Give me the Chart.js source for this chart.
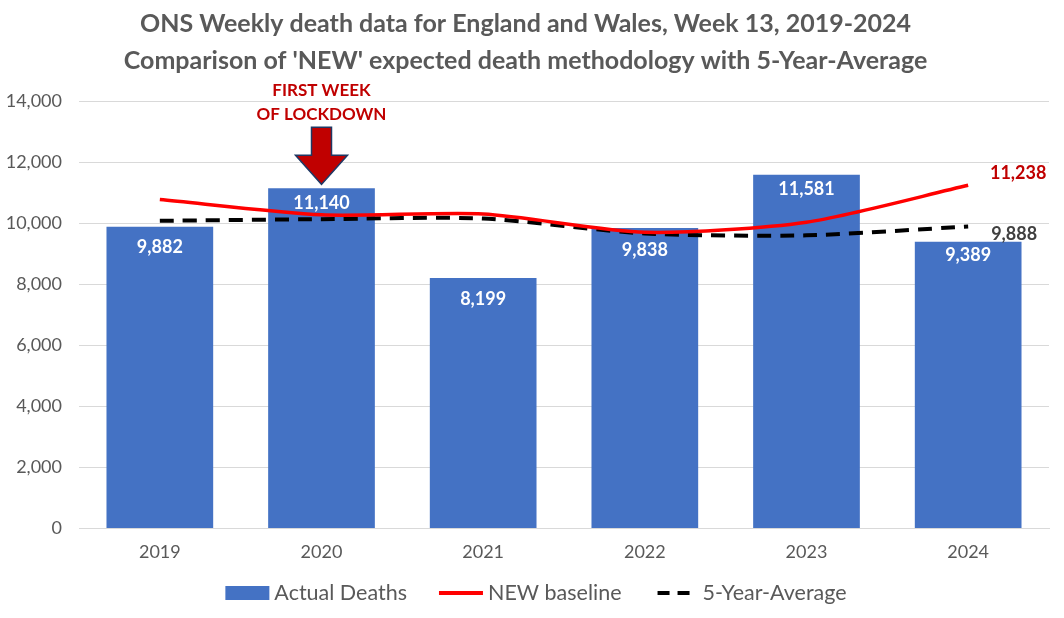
<!DOCTYPE html>
<html>
<head>
<meta charset="utf-8">
<script src="https://cdn.jsdelivr.net/npm/chart.js@4.4.1/dist/chart.umd.min.js"></script>
<style>
  html, body { margin: 0; padding: 0; background: #ffffff; }
  #wrap { width: 1064px; height: 618px; }
</style>
</head>
<body>
<div id="wrap"><canvas id="c" width="1064" height="618"></canvas></div>
<script>
// ---- data ----
const years = ['2019', '2020', '2021', '2022', '2023', '2024'];
const actualDeaths = [9882, 11140, 8199, 9838, 11581, 9389];
const newBaseline = [10770, 10270, 10300, 9700, 10030, 11238];
const fiveYearAverage = [10075, 10130, 10150, 9660, 9600, 9888];
const yTicks = [0, 2000, 4000, 6000, 8000, 10000, 12000, 14000];
const titleLines = [
  'ONS Weekly death data for England and Wales, Week 13, 2019-2024',
  "Comparison of 'NEW' expected death methodology with 5-Year-Average"
];
const annotationLines = ['FIRST WEEK', 'OF LOCKDOWN'];
const annotationYear = '2020';

const FONT = 'Lato, "Open Sans", "Liberation Sans", sans-serif';
const GREY = '#595959';
const BLUE = '#4472C4';
const RED = '#FF0000';
const DARKRED = '#C00000';

const fmt = v => v.toLocaleString('en-US');

const labelOffsets = [20, 15, 21, 22, 14, 13];

const overlayPlugin = {
  id: 'overlay',
  afterDatasetsDraw(chart) {
    const ctx = chart.ctx;
    const xs = chart.scales.x, ys = chart.scales.y;
    ctx.save();
    // bar value labels
    const barMeta = chart.getDatasetMeta(0);
    ctx.font = 'bold 18px ' + FONT;
    ctx.fillStyle = '#ffffff';
    ctx.textAlign = 'center';
    ctx.textBaseline = 'middle';
    barMeta.data.forEach((bar, i) => {
      ctx.fillText(fmt(actualDeaths[i]), bar.x, bar.y + labelOffsets[i]);
    });
    // end labels for lines
    const last = years.length - 1;
    const xe = xs.getPixelForValue(last);
    ctx.fillStyle = DARKRED;
    ctx.fillText(fmt(newBaseline[last]), xe + 50, ys.getPixelForValue(newBaseline[last]) - 12);
    ctx.fillStyle = '#404040';
    ctx.fillText(fmt(fiveYearAverage[last]), xe + 46, ys.getPixelForValue(fiveYearAverage[last]) + 8);

    // arrow annotation
    const ai = years.indexOf(annotationYear);
    const ax = xs.getPixelForValue(ai);
    const tip = ys.getPixelForValue(actualDeaths[ai]) - 4;
    const headBase = tip - 29, bodyTop = tip - 57;
    ctx.beginPath();
    ctx.moveTo(ax - 10, bodyTop);
    ctx.lineTo(ax + 10, bodyTop);
    ctx.lineTo(ax + 10, headBase);
    ctx.lineTo(ax + 26, headBase);
    ctx.lineTo(ax, tip);
    ctx.lineTo(ax - 26, headBase);
    ctx.lineTo(ax - 10, headBase);
    ctx.closePath();
    ctx.fillStyle = DARKRED;
    ctx.fill();
    ctx.lineWidth = 1.5;
    ctx.strokeStyle = '#1F3864';
    ctx.stroke();
    ctx.fillStyle = DARKRED;
    ctx.font = 'bold 17px ' + FONT;
    ctx.fillText(annotationLines[0], ax, tip - 94);
    ctx.fillText(annotationLines[1], ax, tip - 70);
    ctx.restore();
  },
  afterDraw(chart) {
    // legend
    const ctx = chart.ctx;
    ctx.save();
    ctx.font = '21.5px ' + FONT;
    ctx.textBaseline = 'middle';
    ctx.textAlign = 'left';
    const items = chart.data.datasets.map(d => d.label);
    const sw = 44, gapText = 5, gapItem = 32;
    const widths = items.map(t => ctx.measureText(t).width);
    const total = widths.reduce((a, w) => a + sw + gapText + w, 0) + gapItem * (items.length - 1);
    let x = 536 - total / 2;
    const y = 593;
    items.forEach((t, i) => {
      if (i === 0) {
        ctx.fillStyle = BLUE;
        ctx.fillRect(x, y - 7, sw, 14);
      } else if (i === 1) {
        ctx.strokeStyle = RED; ctx.lineWidth = 4; ctx.setLineDash([]);
        ctx.beginPath(); ctx.moveTo(x, y); ctx.lineTo(x + sw, y); ctx.stroke();
      } else {
        ctx.strokeStyle = '#000'; ctx.lineWidth = 4; ctx.setLineDash([12, 8]);
        ctx.beginPath(); ctx.moveTo(x + 4, y); ctx.lineTo(x + sw, y); ctx.stroke();
        ctx.setLineDash([]);
      }
      ctx.fillStyle = GREY;
      ctx.fillText(t, x + sw + gapText, y);
      x += sw + gapText + widths[i] + gapItem;
    });
    ctx.restore();
  }
};

new Chart(document.getElementById('c'), {
  data: {
    labels: years,
    datasets: [
      {
        type: 'bar', label: 'Actual Deaths', data: actualDeaths,
        backgroundColor: BLUE, borderWidth: 0,
        barPercentage: 0.66, categoryPercentage: 1.0, order: 3
      },
      {
        type: 'line', label: 'NEW baseline', data: newBaseline,
        borderColor: RED, backgroundColor: RED, borderWidth: 3.5,
        pointRadius: 0, tension: 0.25, fill: false, order: 1
      },
      {
        type: 'line', label: '5-Year-Average', data: fiveYearAverage,
        borderColor: '#000000', backgroundColor: '#000000', borderWidth: 4,
        borderDash: [14, 9], pointRadius: 0, tension: 0.25, fill: false, order: 2
      }
    ]
  },
  options: {
    responsive: false,
    animation: false,
    layout: { padding: { left: 2, right: 15, top: 0, bottom: 50 } },
    plugins: {
      legend: { display: false },
      tooltip: { enabled: false },
      title: {
        display: true, text: titleLines, color: GREY,
        font: { family: FONT, size: 25, weight: 'bold', lineHeight: 1.5 },
        padding: { top: 5, bottom: 21 }
      }
    },
    scales: {
      x: {
        grid: { display: false },
        border: { display: true, color: '#d9d9d9', width: 1 },
        ticks: { color: GREY, font: { family: FONT, size: 18 }, padding: 5 }
      },
      y: {
        min: 0, max: 14000,
        afterBuildTicks: axis => { axis.ticks = yTicks.map(v => ({ value: v })); },
        afterFit: axis => { axis.width = 77; },
        grid: { color: '#d9d9d9', lineWidth: 1, drawTicks: false },
        border: { display: false },
        ticks: { color: GREY, font: { family: FONT, size: 18 }, padding: 17, callback: v => fmt(v) }
      }
    }
  },
  plugins: [overlayPlugin]
});
</script>
</body>
</html>
